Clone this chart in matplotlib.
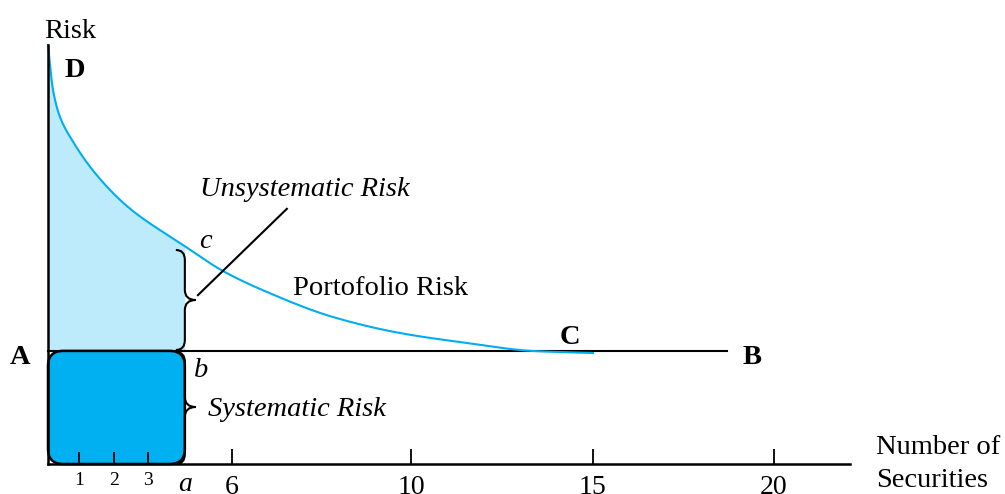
import numpy as np
import matplotlib
matplotlib.use("Agg")
import matplotlib.pyplot as plt
from matplotlib.patches import FancyBboxPatch, PathPatch
from matplotlib.path import Path

plt.rcParams['font.family'] = ['Liberation Serif', 'DejaVu Serif']

# portfolio risk curve (x = number of securities, schematic)
curve_x = [0, 0.138, 0.331, 0.661, 1.295, 2.204, 3.719, 4.821, 6.033, 7.851, 9.697, 11.543, 13.361, 15.014]
curve_y = [10.0, 8.926, 8.282, 7.733, 6.945, 6.134, 5.227, 4.606, 4.105, 3.508, 3.126, 2.888, 2.697, 2.649]

sys_level = 2.7      # systematic risk level (line A-B)
line_end = 18.7      # end of line A-B
a_pos = 3.77         # position "a"
y_top = 10.0
x_max = 22.1

major_pos = [5.07, 10, 15, 20]
major_labels = ['6', '10', '15', '20']
minor_pos = [0.86, 1.82, 2.75, a_pos]
minor_labels = ['1', '2', '3', 'a']

# pixel scale of the data units
px_x = 36.3
px_y = 41.9


def pchip(xs, ys, n=600):
    # monotone cubic through the read points (Fritsch-Carlson)
    x = np.asarray(xs, float)
    y = np.asarray(ys, float)
    h = np.diff(x)
    d = np.diff(y) / h
    m = np.zeros_like(y)
    m[0], m[-1] = d[0], d[-1]
    for k in range(1, len(x) - 1):
        if d[k - 1] * d[k] > 0:
            w1 = 2 * h[k] + h[k - 1]
            w2 = h[k] + 2 * h[k - 1]
            m[k] = (w1 + w2) / (w1 / d[k - 1] + w2 / d[k])
    xx = np.linspace(x[0], x[-1], n)
    # finer sampling near the steep start
    xx = np.unique(np.concatenate([xx, np.linspace(x[0], x[2], 80)]))
    i = np.clip(np.searchsorted(x, xx) - 1, 0, len(x) - 2)
    t = (xx - x[i]) / h[i]
    h00 = 2 * t ** 3 - 3 * t ** 2 + 1
    h10 = t ** 3 - 2 * t ** 2 + t
    h01 = -2 * t ** 3 + 3 * t ** 2
    h11 = t ** 3 - t ** 2
    yy = h00 * y[i] + h10 * h[i] * m[i] + h01 * y[i + 1] + h11 * h[i] * m[i + 1]
    return xx, yy


def brace(ax, xs, ytop, ybot, ymid):
    xe = xs - 9 / px_x
    xt = xs + 11 / px_x
    r = 10 / px_y
    verts = [(xe, ytop), (xs, ytop), (xs, ytop - r),
             (xs, ymid + r), (xs, ymid), (xt, ymid),
             (xs, ymid), (xs, ymid - r),
             (xs, ybot + r), (xs, ybot), (xe, ybot)]
    codes = [Path.MOVETO, Path.CURVE3, Path.CURVE3,
             Path.LINETO, Path.CURVE3, Path.CURVE3,
             Path.CURVE3, Path.CURVE3,
             Path.LINETO, Path.CURVE3, Path.CURVE3]
    ax.add_patch(PathPatch(Path(verts, codes), fill=False, lw=1.5, ec='black', zorder=4))


fig = plt.figure(figsize=(10.05, 4.94), dpi=100)
ax = fig.add_axes([0, 0, 1, 1])
ax.set_xlim(-48 / px_x, (1005 - 48) / px_x)
ax.set_ylim(-(494 - 464) / px_y, 464 / px_y)

sx, sy = pchip(curve_x, curve_y)

# light fill: unsystematic part
m = sx <= a_pos
fx = np.append(sx[m], a_pos)
fy = np.append(sy[m], np.interp(a_pos, sx, sy))
ax.fill_between(fx, sys_level, fy, color='#BDEBFB', lw=0, zorder=1)

# dark rounded box: systematic part
box = FancyBboxPatch((0, 0), a_pos, sys_level,
                     boxstyle='round,pad=0,rounding_size=0.42',
                     mutation_aspect=px_x / px_y,
                     fc='#00B0F0', ec='black', lw=1.8, zorder=2)
ax.add_patch(box)

ax.plot([0, line_end], [sys_level, sys_level], color='black', lw=1.5, zorder=3)
ax.plot(sx, sy, color='#00AEEF', lw=1.5, zorder=3)

brace(ax, a_pos, (464 - 250) / px_y, (464 - 350) / px_y, (464 - 300) / px_y)
brace(ax, a_pos, (464 - 352) / px_y, 0, (464 - 407) / px_y)

# leader line to "Unsystematic Risk"
ax.plot([4.13, 6.58], [4.03, 6.09], color='black', lw=1.5, zorder=4)

# axes
for s in ['top', 'right']:
    ax.spines[s].set_visible(False)
ax.spines['left'].set_position(('data', 0))
ax.spines['bottom'].set_position(('data', 0))
ax.spines['left'].set_bounds(0, y_top)
ax.spines['bottom'].set_bounds(0, x_max)
ax.spines['left'].set_linewidth(1.8)
ax.spines['bottom'].set_linewidth(1.8)
ax.spines['left'].set_zorder(5)
ax.spines['bottom'].set_zorder(5)
ax.set_yticks([])
ax.set_xticks(major_pos, major_labels, fontsize=20)
ax.set_xticks(minor_pos, minor_labels, minor=True, fontsize=14)
ax.tick_params(axis='x', which='major', direction='in', length=11, width=1.3, pad=8)
ax.tick_params(axis='x', which='minor', direction='in', length=8.5, width=1.3, pad=5.5)
ax.xaxis.set_zorder(5)
mt = ax.xaxis.get_minor_ticks()
mt[3].tick1line.set_visible(False)
lab = ax.get_xticklabels(minor=True)[3]
lab.set_style('italic')
lab.set_fontsize(20)

fs = 20.5
ax.text(0.61, 10.33, 'Risk', fontsize=fs, ha='center', va='center')
ax.text(0.74, 9.40, 'D', fontsize=fs, weight='bold', ha='center', va='center')
ax.text(-0.77, 2.55, 'A', fontsize=fs, weight='bold', ha='center', va='center')
ax.text(19.39, 2.55, 'B', fontsize=fs, weight='bold', ha='center', va='center')
ax.text(14.38, 3.03, 'C', fontsize=fs, weight='bold', ha='center', va='center')
ax.text(4.33, 5.32, 'c', fontsize=fs, style='italic', ha='center', va='center')
ax.text(4.21, 2.24, 'b', fontsize=fs, style='italic', ha='center', va='center')
ax.text(4.19, 6.54, 'Unsystematic Risk', fontsize=fs, style='italic', ha='left', va='center')
ax.text(6.75, 4.18, 'Portofolio Risk', fontsize=fs, ha='left', va='center')
ax.text(4.41, 1.29, 'Systematic Risk', fontsize=fs, style='italic', ha='left', va='center')
ax.text(22.81, 0.0, 'Number of\nSecurities', fontsize=fs, ha='left', va='center', linespacing=1.42)

fig.savefig('out.png', dpi=100)
